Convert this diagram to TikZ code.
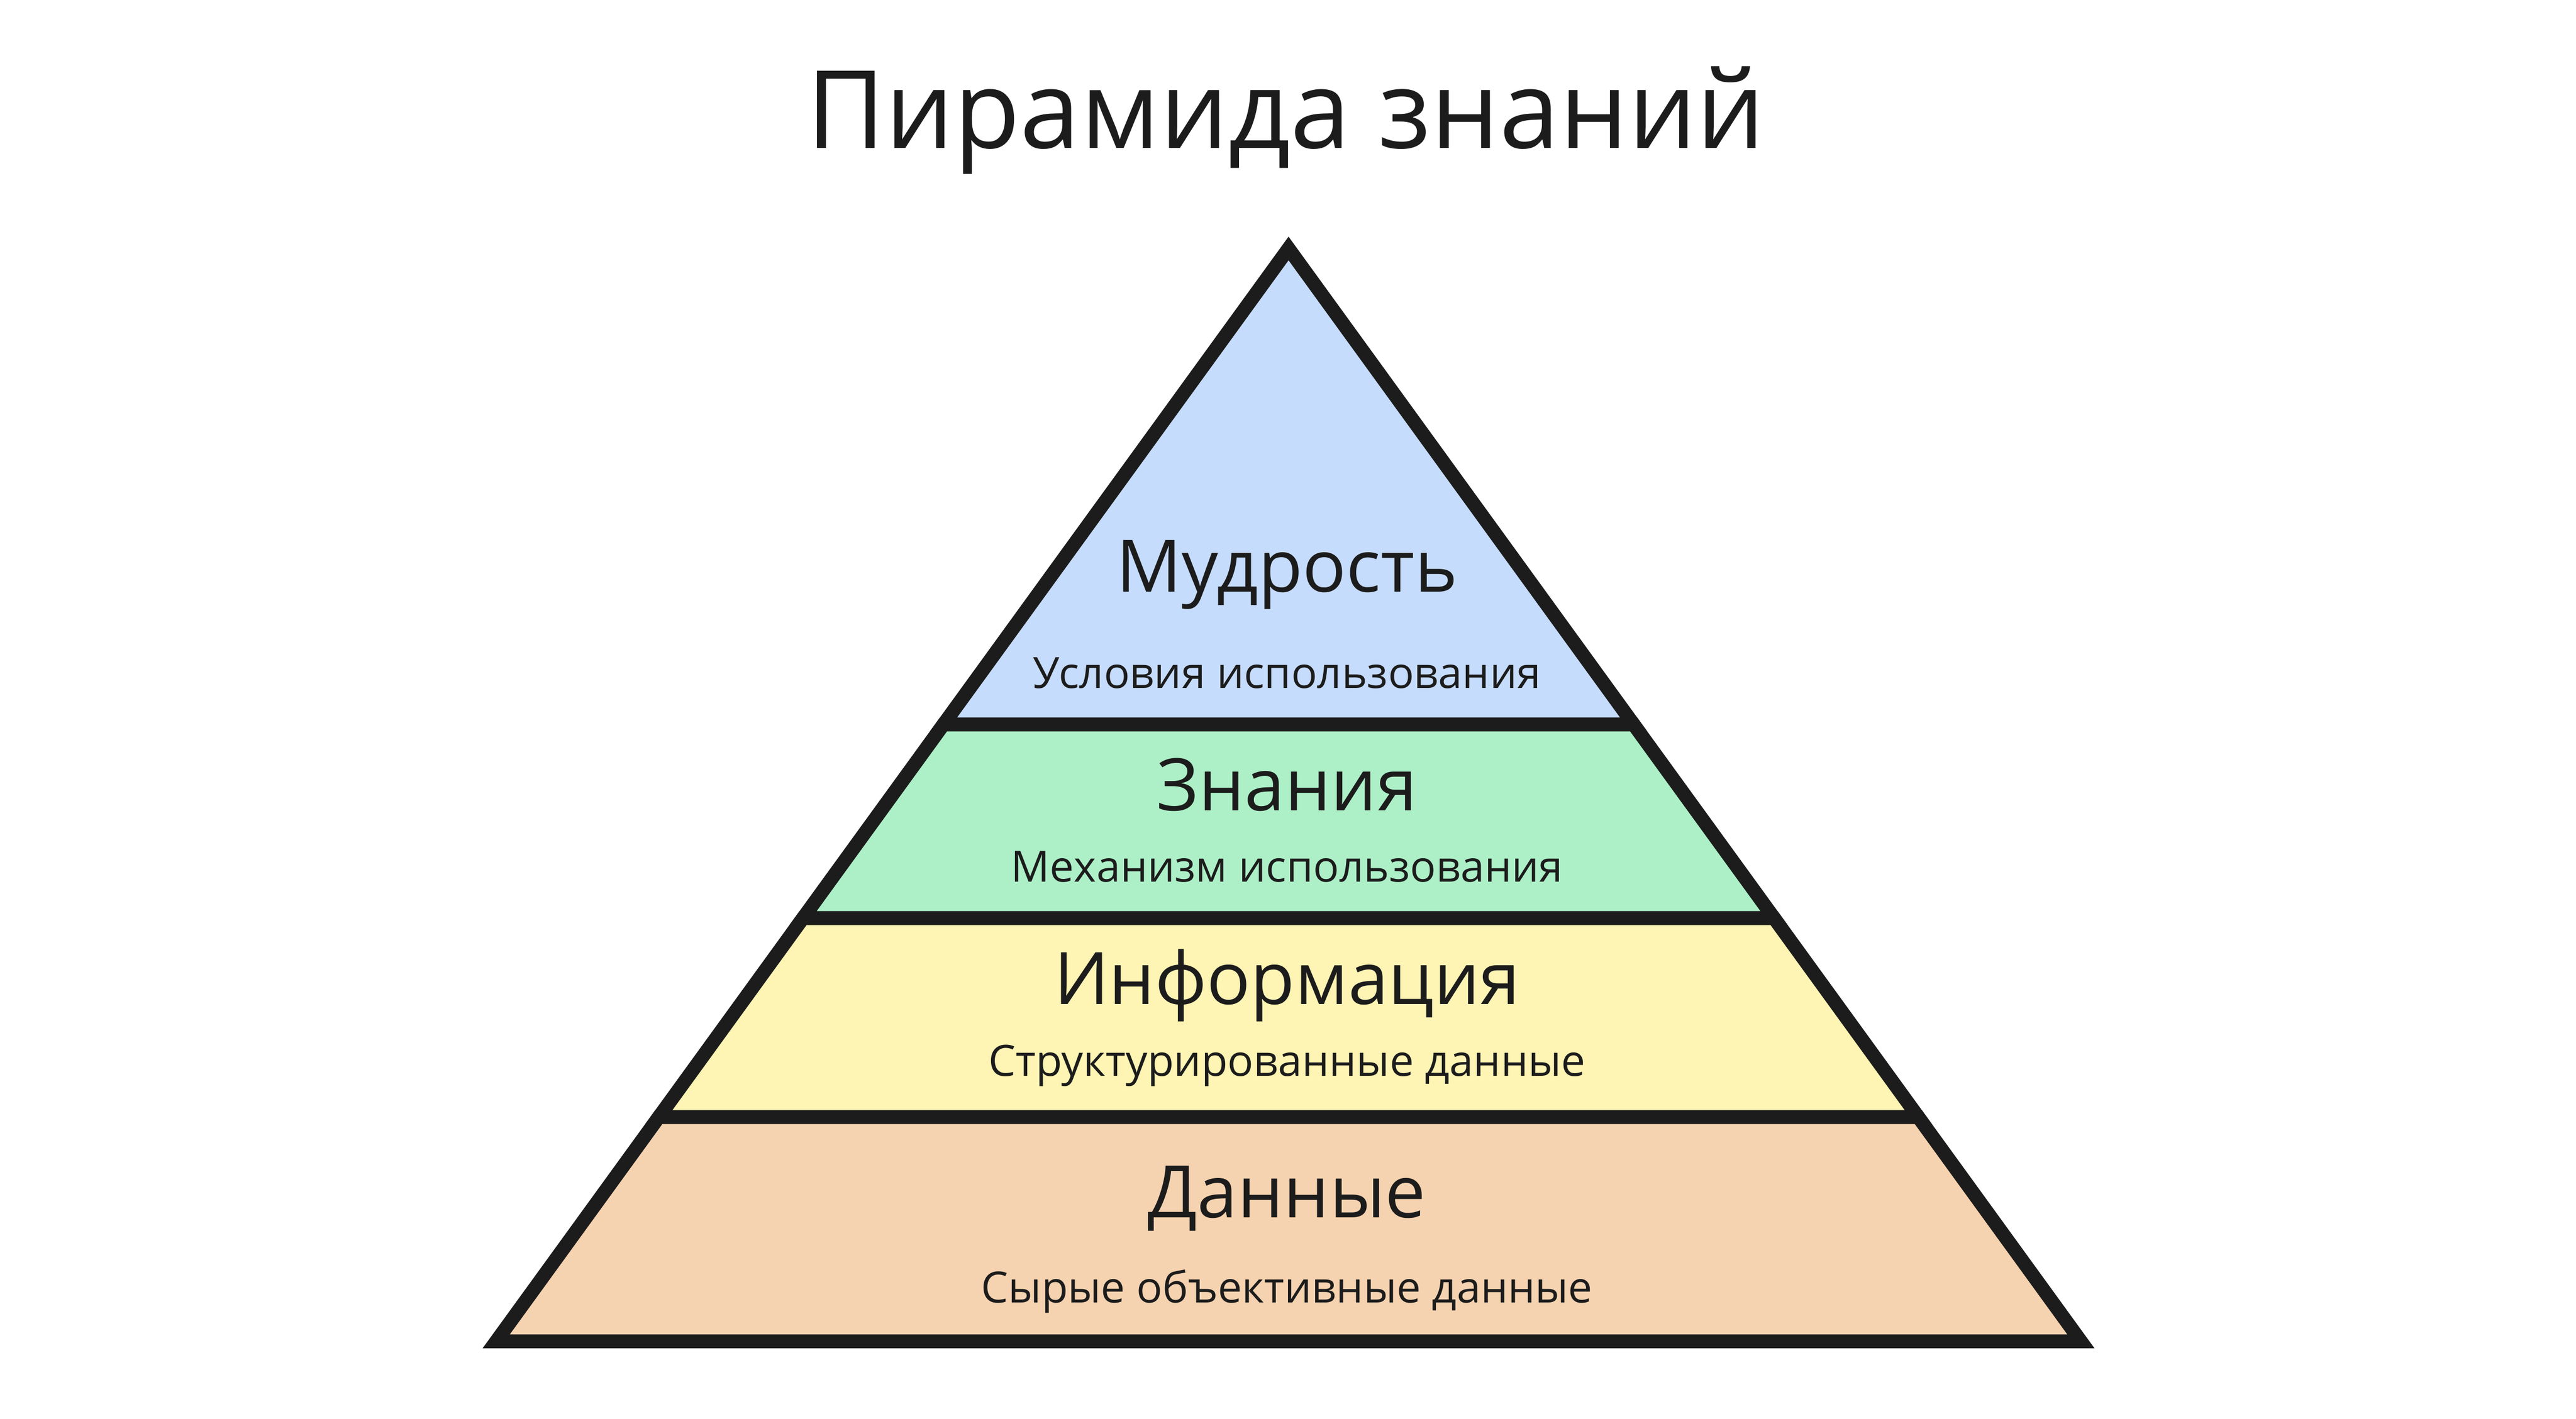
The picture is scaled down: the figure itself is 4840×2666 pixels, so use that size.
\documentclass[tikz,border=0pt]{standalone}
\usepackage{fontspec}
\setmainfont{Open Sans}
\usepackage{color}

\definecolor{inkgray}{HTML}{1C1C1C}
\definecolor{wisdomblue}{HTML}{C6DCFC}
\definecolor{knowgreen}{HTML}{ADF0C7}
\definecolor{infoyellow}{HTML}{FEF4B4}
\definecolor{datapeach}{HTML}{F6D3B0}

\begin{document}
\begin{tikzpicture}[%
      x=0.01cm, y=-0.01cm,
      tier/.style={draw=inkgray, line width=7.4pt, line join=miter},
      headtext/.style={anchor=base, text=inkgray, font=\fontsize{38.7pt}{46pt}\selectfont},
      subtext/.style={anchor=base, text=inkgray, font=\fontsize{23pt}{28pt}\selectfont},
      ]
      \useasboundingbox (0,0) rectangle (4840,2666);

      % layers, top to bottom
      \filldraw [tier, fill=wisdomblue] (2421,467) -- (3069.3,1361.5) -- (1772.7,1361.5) -- cycle;
      \filldraw [tier, fill=knowgreen] (1772.7,1361.5) -- (3069.3,1361.5) -- (3333.2,1725.5) -- (1508.8,1725.5) -- cycle;
      \filldraw [tier, fill=infoyellow] (1508.8,1725.5) -- (3333.2,1725.5) -- (3604.2,2099.5) -- (1237.8,2099.5) -- cycle;
      \filldraw [tier, fill=datapeach] (1237.8,2099.5) -- (3604.2,2099.5) -- (3909.7,2521) -- (932.3,2521) -- cycle;

      \node (title) [anchor=base, text=inkgray, font=\fontsize{57.8pt}{69pt}\selectfont] at (2416,278) {Пирамида знаний};

      \node (wisdom) [headtext] at (2418,1112) {Мудрость};
      \node (wisdomsub) [subtext] at (2418,1293) {Условия использования};
      \node (knowledge) [headtext] at (2418,1523) {Знания};
      \node (knowledgesub) [subtext] at (2418,1657) {Механизм использования};
      \node (info) [headtext] at (2418,1887) {Информация};
      \node (infosub) [subtext] at (2418,2022) {Структурированные данные};
      \node (data) [headtext] at (2418,2288) {Данные};
      \node (datasub) [subtext] at (2418,2448) {Сырые объективные данные};
      \end{tikzpicture}
\end{document}
